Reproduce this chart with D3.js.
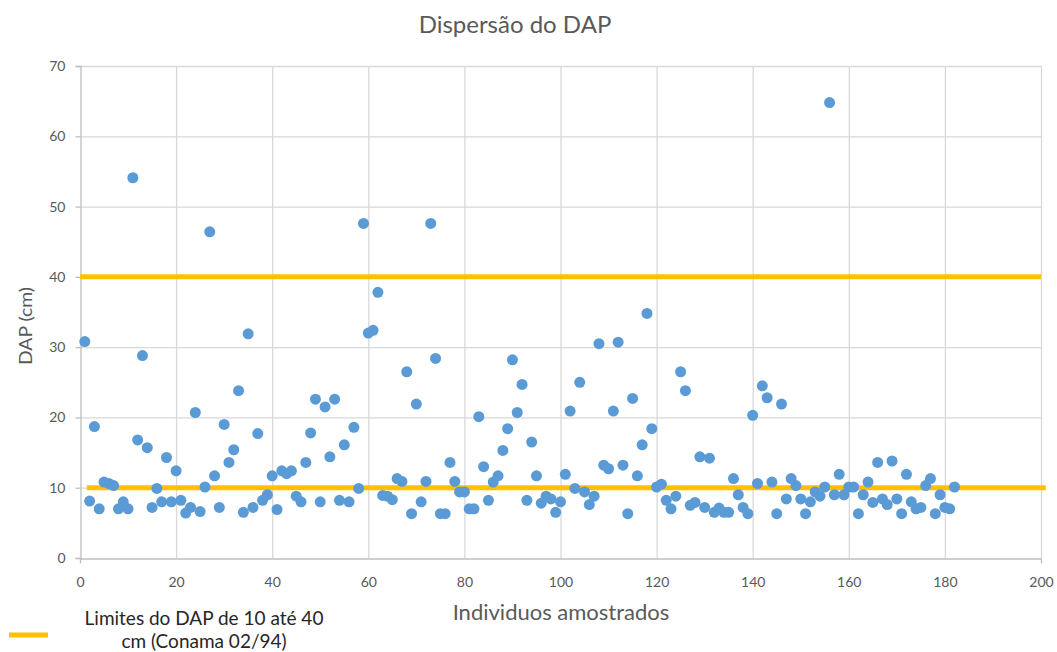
<!DOCTYPE html>
<html>
<head>
<meta charset="utf-8">
<script src="https://cdn.jsdelivr.net/npm/d3@7/dist/d3.min.js"></script>
<style>
  html, body { margin: 0; padding: 0; background: #fff; }
  svg { display: block; }
</style>
</head>
<body>
<svg id="chart" width="1057" height="652"></svg>
<script>
// Individual sample number (1..182) and measured DAP in cm
const individuos = d3.range(1, 183);
const dap = [
  30.8, 8.1, 18.7, 7.0, 10.8, 10.6, 10.3, 7.0, 8.0, 7.0,
  54.1, 16.8, 28.8, 15.7, 7.2, 9.9, 8.0, 14.3, 8.0, 12.4,
  8.2, 6.4, 7.2, 20.7, 6.6, 10.1, 46.4, 11.7, 7.2, 19.0,
  13.6, 15.4, 23.8, 6.5, 31.9, 7.2, 17.7, 8.2, 9.0, 11.7,
  6.9, 12.4, 12.0, 12.4, 8.8, 8.0, 13.6, 17.8, 22.6, 8.0,
  21.5, 14.4, 22.6, 8.2, 16.1, 8.0, 18.6, 9.9, 47.6, 32.0,
  32.4, 37.8, 8.9, 8.8, 8.3, 11.3, 10.9, 26.5, 6.3, 21.9,
  8.0, 10.9, 47.6, 28.4, 6.3, 6.3, 13.6, 10.9, 9.4, 9.4,
  7.0, 7.0, 20.1, 13.0, 8.2, 10.8, 11.7, 15.3, 18.4, 28.2,
  20.7, 24.7, 8.2, 16.5, 11.7, 7.8, 8.8, 8.4, 6.5, 8.0,
  11.9, 20.9, 9.9, 25.0, 9.4, 7.6, 8.8, 30.5, 13.2, 12.7,
  20.9, 30.7, 13.2, 6.3, 22.7, 11.7, 16.1, 34.8, 18.4, 10.1,
  10.5, 8.2, 7.0, 8.8, 26.5, 23.8, 7.5, 7.9, 14.4, 7.2,
  14.2, 6.5, 7.1, 6.5, 6.5, 11.3, 9.0, 7.2, 6.3, 20.3,
  10.6, 24.5, 22.8, 10.8, 6.3, 21.9, 8.4, 11.3, 10.3, 8.4,
  6.3, 8.0, 9.4, 8.8, 10.1, 64.8, 9.0, 11.9, 9.0, 10.1,
  10.1, 6.3, 9.0, 10.8, 7.9, 13.6, 8.4, 7.6, 13.8, 8.4,
  6.3, 11.9, 8.0, 7.0, 7.2, 10.3, 11.3, 6.3, 9.0, 7.2,
  7.0, 10.1
];

// Conama 02/94 limits (lower / upper DAP) and the x span of each line
const limiteInferior = [{ x: 1.4, y: 10 }, { x: 201, y: 10 }];
const limiteSuperior = [{ x: 0, y: 40 }, { x: 200, y: 40 }];

const xTicks = [0, 20, 40, 60, 80, 100, 120, 140, 160, 180, 200];
const yTicks = [0, 10, 20, 30, 40, 50, 60, 70];

const titulo = "Dispersão do DAP";
const tituloX = "Individuos amostrados";
const tituloY = "DAP (cm)";
const legendaLinhas = ["Limites do DAP de 10 até 40", "cm (Conama 02/94)"];

const font = "Lato, 'Open Sans', 'Liberation Sans', sans-serif";
const svg = d3.select("#chart");

const m = { left: 80, right: 1041, top: 66, bottom: 558 };
const x = d3.scaleLinear().domain([0, 200]).range([m.left, m.right]);
const y = d3.scaleLinear().domain([0, 70]).range([m.bottom, m.top]);

// Gridlines
const grid = svg.append("g");
grid.selectAll("line.h").data(yTicks.filter(d => d > 0)).join("line")
  .attr("x1", m.left).attr("x2", m.right)
  .attr("y1", d => y(d) + 0.5).attr("y2", d => y(d) + 0.5)
  .attr("stroke", "#d9d9d9").attr("stroke-width", 1.3);
grid.selectAll("line.v").data(xTicks.filter(d => d > 0)).join("line")
  .attr("x1", d => x(d) + 0.5).attr("x2", d => x(d) + 0.5)
  .attr("y1", m.top).attr("y2", m.bottom)
  .attr("stroke", "#d9d9d9").attr("stroke-width", 1.3);

// Axes
const yAxis = d3.axisLeft(y).tickValues(yTicks).tickSize(5).tickPadding(10).tickFormat(d3.format("d"));
const xAxis = d3.axisBottom(x).tickValues(xTicks).tickSize(5).tickPadding(14).tickFormat(d3.format("d"));

const gy = svg.append("g").attr("transform", `translate(${m.left + 0.5},0)`).call(yAxis);
const gx = svg.append("g").attr("transform", `translate(0,${m.bottom + 0.5})`).call(xAxis);
[gx, gy].forEach(g => {
  g.select(".domain").attr("stroke", "#bfbfbf").attr("stroke-width", 1.3);
  g.selectAll(".tick line").attr("stroke", "#bfbfbf").attr("stroke-width", 1.3);
  g.selectAll(".tick text").attr("fill", "#595959")
    .style("font-family", font).style("font-size", "14px");
});
gx.selectAll(".tick line").attr("y2", 0);

// Limit lines
const linha = d3.line().x(d => x(d.x)).y(d => y(d.y));
[limiteSuperior, limiteInferior].forEach(l => {
  svg.append("path").datum(l).attr("d", linha)
    .attr("fill", "none").attr("stroke", "#ffc000").attr("stroke-width", 5);
});

// Points
svg.append("g").selectAll("circle").data(individuos).join("circle")
  .attr("cx", d => x(d))
  .attr("cy", (d, i) => y(dap[i]))
  .attr("r", 5.5)
  .attr("fill", "#5b9bd5");

// Titles
svg.append("text").attr("x", 515).attr("y", 33).attr("text-anchor", "middle")
  .attr("fill", "#595959").style("font-family", font).style("font-size", "24px")
  .text(titulo);
svg.append("text").attr("x", 561).attr("y", 620).attr("text-anchor", "middle")
  .attr("fill", "#595959").style("font-family", font).style("font-size", "22px")
  .text(tituloX);
svg.append("text").attr("transform", "translate(32,326) rotate(-90)")
  .attr("text-anchor", "middle").attr("fill", "#595959")
  .attr("textLength", 78).attr("lengthAdjust", "spacingAndGlyphs")
  .style("font-family", font).style("font-size", "18px")
  .text(tituloY);

// Legend
svg.append("line").attr("x1", 9).attr("x2", 48).attr("y1", 635).attr("y2", 635)
  .attr("stroke", "#ffc000").attr("stroke-width", 5);
svg.append("text").attr("text-anchor", "middle")
  .attr("fill", "#262626").style("font-family", font).style("font-size", "19px")
  .selectAll("tspan").data(legendaLinhas).join("tspan")
  .attr("x", 204).attr("y", (d, i) => 625 + i * 23)
  .text(d => d);
</script>
</body>
</html>
